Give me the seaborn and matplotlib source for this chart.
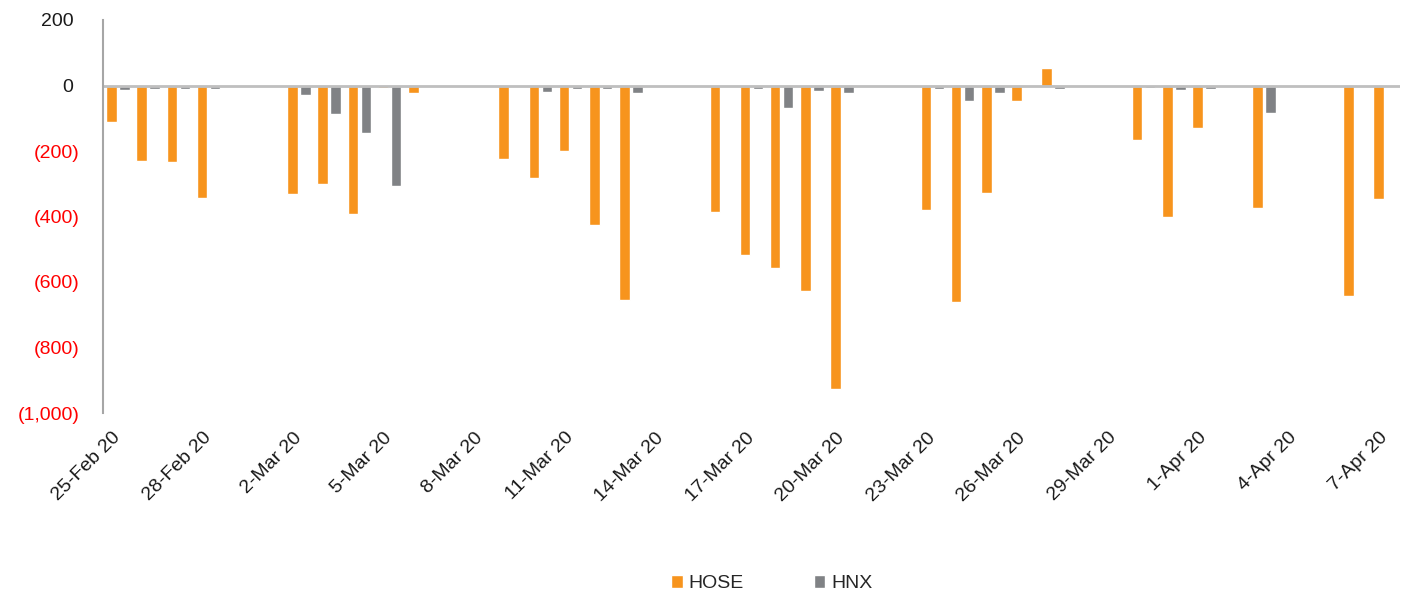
import matplotlib
matplotlib.use("Agg")
import matplotlib.pyplot as plt
import pandas as pd
import seaborn as sns

# Trading sessions (weekends and the 2-Apr holiday have no session)
trading_days = [
    "2020-02-25", "2020-02-26", "2020-02-27", "2020-02-28",
    "2020-03-02", "2020-03-03", "2020-03-04", "2020-03-05", "2020-03-06",
    "2020-03-09", "2020-03-10", "2020-03-11", "2020-03-12", "2020-03-13",
    "2020-03-16", "2020-03-17", "2020-03-18", "2020-03-19", "2020-03-20",
    "2020-03-23", "2020-03-24", "2020-03-25", "2020-03-26", "2020-03-27",
    "2020-03-30", "2020-03-31", "2020-04-01", "2020-04-03",
    "2020-04-06", "2020-04-07",
]

# Net foreign flow, bn VND
hose = [
    -110, -230, -235, -342,
    -331, -300, -391, -9, -23,
    -223, -282, -200, -427, -655,
    -385, -517, -557, -627, -928,
    -381, -662, -327, -46, 53,
    -166, -403, -129, -373,
    -644, -348,
]
hnx = [
    -15, -10, -10, -10,
    -30, -86, -145, -306, -3,
    -3, -19, -12, -10, -22,
    -5, -10, -68, -16, -22,
    -11, -47, -24, -2, -10,
    -8, -13, -11, -85,
    -3, -3,
]

markets = ["HOSE", "HNX"]
colors = ["#F7941D", "#808285"]
y_ticks = [-1000, -800, -600, -400, -200, 0, 200]

calendar = pd.date_range("2020-02-25", "2020-04-07", freq="D")
order = [d.strftime("%Y-%m-%d") for d in calendar]

n = len(trading_days)
df = pd.DataFrame({
    "day": trading_days * 2,
    "market": [markets[0]] * n + [markets[1]] * n,
    "value": hose + hnx,
})

sns.set_theme(style="white")
plt.rcParams["font.family"] = ["Liberation Sans", "DejaVu Sans"]

W, H = 1408, 594
fig = plt.figure(figsize=(W / 100, H / 100), dpi=100)
ax = fig.add_axes([103 / W, 1 - 413 / H, (1400 - 103) / W, (413 - 20) / H])

sns.barplot(
    data=df, x="day", y="value", hue="market",
    order=order, hue_order=markets, palette=colors,
    width=0.86, gap=0.18, errorbar=None, saturation=1,
    ax=ax,
)

ax.set_xlim(-0.5, len(order) - 0.5)
ax.set_ylim(-1000, 200)
ax.set_xlabel("")
ax.set_ylabel("")

# zero line
ax.axhline(0, color="#BFBFBF", lw=2, zorder=1)

for s in ["top", "right", "bottom"]:
    ax.spines[s].set_visible(False)
ax.spines["left"].set_color("#A6A6A6")
ax.spines["left"].set_linewidth(1.5)

# y axis: negatives in red, in parentheses
ax.set_yticks(y_ticks)
ylabels = [f"({abs(v):,})" if v < 0 else f"{v:,} " for v in y_ticks]
ax.set_yticklabels(ylabels, fontsize=14)
for v, lab in zip(y_ticks, ax.get_yticklabels()):
    lab.set_color("#FF0000" if v < 0 else "#1A1A1A")
ax.tick_params(axis="y", length=0, pad=17)

# x axis: every third calendar day
xt = list(range(0, len(order), 3))
ax.set_xticks(xt)
ax.set_xticklabels(
    [calendar[i].strftime("%-d-%b %y") for i in xt],
    rotation=45, ha="right", va="center", rotation_mode="anchor",
    fontsize=14, color="#1A1A1A",
)
ax.tick_params(axis="x", length=0, pad=16)

handles, labels = ax.get_legend_handles_labels()
ax.legend_.remove()
fig.legend(
    handles, labels, loc="center", bbox_to_anchor=(0.548, 0.017),
    ncol=2, frameon=False, fontsize=14,
    handlelength=0.6, handleheight=0.6, handletextpad=0.3, columnspacing=3.6,
)

fig.savefig("out.png", dpi=100)
